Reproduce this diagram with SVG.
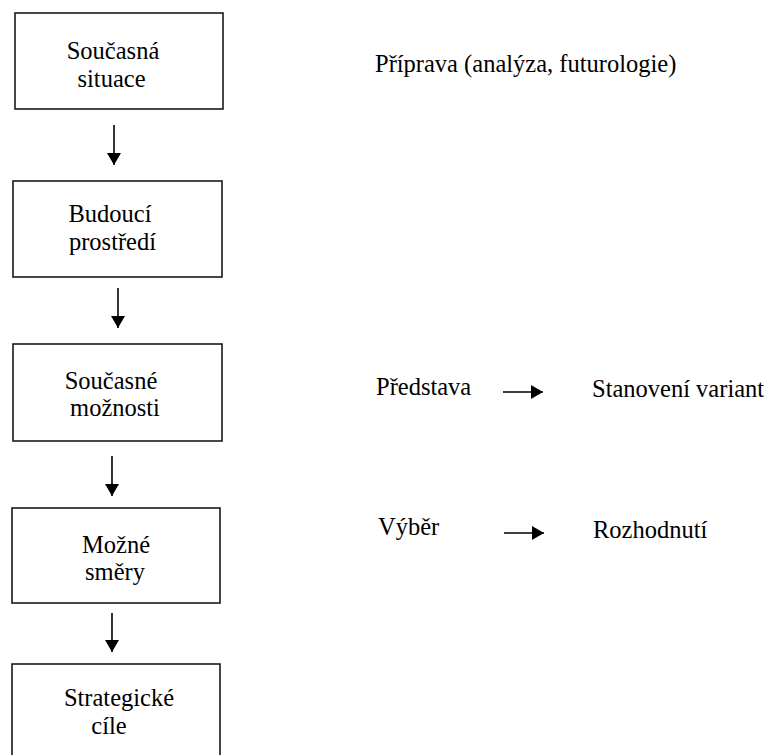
<svg xmlns="http://www.w3.org/2000/svg" width="771" height="755" viewBox="0 0 771 755">
  <style>
    .box { fill: #ffffff; stroke: #1a1a1a; stroke-width: 1.6; }
    .t { font-family: 'Liberation Serif', 'Times New Roman', serif; font-size: 24.5px; fill: #000; }
    .c { text-anchor: middle; }
    .conn { stroke: #000; stroke-width: 1.6; fill: none; marker-end: url(#ah); }
  </style>
  <defs>
    <marker id="ah" markerUnits="userSpaceOnUse" markerWidth="12" markerHeight="14" refX="12" refY="7" orient="auto">
      <path d="M0,0 L12,7 L0,14 z" fill="#000"/>
    </marker>
  </defs>
  <rect width="771" height="755" fill="#ffffff"/>

  <g id="node-soucasna-situace">
    <rect class="box" x="15" y="13" width="208" height="96"/>
    <text class="t c" x="113" y="59">Současná</text>
    <text class="t c" x="111.5" y="87">situace</text>
  </g>
  <g id="node-budouci-prostredi">
    <rect class="box" x="13" y="181" width="209" height="96"/>
    <text class="t c" x="110" y="222">Budoucí</text>
    <text class="t c" x="112.5" y="250">prostředí</text>
  </g>
  <g id="node-soucasne-moznosti">
    <rect class="box" x="13" y="344" width="209" height="97"/>
    <text class="t c" x="111" y="389">Současné</text>
    <text class="t c" x="115" y="416">možnosti</text>
  </g>
  <g id="node-mozne-smery">
    <rect class="box" x="12" y="508" width="208" height="95"/>
    <text class="t c" x="116" y="553">Možné</text>
    <text class="t c" x="115" y="580">směry</text>
  </g>
  <g id="node-strategicke-cile">
    <rect class="box" x="12" y="664" width="208" height="110"/>
    <text class="t c" x="119" y="706">Strategické</text>
    <text class="t c" x="109" y="734">cíle</text>
  </g>

  <g id="node-priprava">
    <text class="t" x="375" y="72">Příprava (analýza, futurologie)</text>
  </g>
  <g id="node-predstava">
    <text class="t" x="376" y="395">Představa</text>
  </g>
  <g id="node-stanoveni-variant">
    <text class="t" x="592" y="397">Stanovení variant</text>
  </g>
  <g id="node-vyber">
    <text class="t" x="378" y="535">Výběr</text>
  </g>
  <g id="node-rozhodnuti">
    <text class="t" x="593" y="538">Rozhodnutí</text>
  </g>

  <g id="connectors">
    <line class="conn" x1="114" y1="125" x2="114" y2="165"/>
    <line class="conn" x1="118" y1="288" x2="118" y2="328"/>
    <line class="conn" x1="112" y1="456" x2="112" y2="496"/>
    <line class="conn" x1="112" y1="613" x2="112" y2="652"/>
    <line class="conn" x1="503" y1="392" x2="543" y2="392"/>
    <line class="conn" x1="504" y1="533" x2="544" y2="533"/>
  </g>
</svg>
